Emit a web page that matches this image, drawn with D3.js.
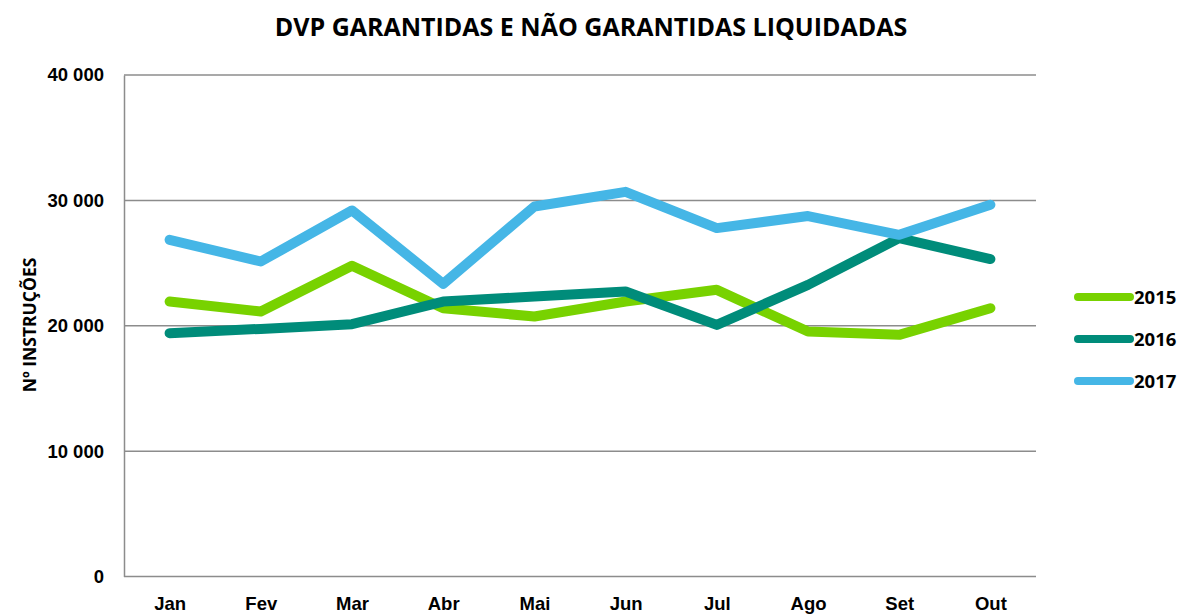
<!DOCTYPE html>
<html>
<head>
<meta charset="utf-8">
<script src="https://d3js.org/d3.v7.min.js"></script>
<style>
  body { margin: 0; background: white; font-family: "Open Sans", sans-serif; }
  .tick text { font-weight: bold; }
</style>
</head>
<body>
<div id="chart"></div>
<script>
  const months = ["Jan", "Fev", "Mar", "Abr", "Mai", "Jun", "Jul", "Ago", "Set", "Out"];
  const years = ["2015", "2016", "2017"];
  const v2015 = [21930, 21130, 24780, 21400, 20735, 21930, 22865, 19540, 19275, 21400];
  const v2016 = [19410, 19750, 20125, 21930, 22330, 22730, 20070, 23260, 26990, 25315];
  const v2017 = [26856, 25125, 29195, 23345, 29515, 30680, 27790, 28750, 27250, 29650];
  const yTicks = [0, 10000, 20000, 30000, 40000];
  const colors = ["#78d200", "#008c7a", "#45b6e6"];

  const series = [v2015, v2016, v2017];

  const width = 1182, height = 614;
  const plotLeft = 124, plotRight = 1036, plotTop = 75, plotBottom = 576.5;

  const svg = d3.select("#chart").append("svg")
      .attr("width", width)
      .attr("height", height);

  const x = d3.scalePoint().domain(months).range([plotLeft, plotRight]).padding(0.5);
  const y = d3.scaleLinear().domain([0, 40000]).range([plotBottom, plotTop]);

  const fmt = v => d3.format(",")(v).replace(/,/g, " ");

  // gridlines
  svg.append("g")
      .selectAll("line")
      .data(yTicks.slice(1))
      .enter()
      .append("line")
      .attr("x1", plotLeft).attr("x2", plotRight)
      .attr("y1", d => y(d)).attr("y2", d => y(d))
      .attr("stroke", "#8c8c8c")
      .attr("stroke-width", 1.5);

  // y axis
  const yAxis = svg.append("g")
      .attr("transform", `translate(${plotLeft},0)`)
      .call(d3.axisLeft(y).tickValues(yTicks).tickSize(0).tickPadding(20).tickFormat(fmt));
  yAxis.select(".domain").attr("stroke", "#8c8c8c").attr("stroke-width", 1.5);
  yAxis.selectAll("text").style("font-size", "18.5px").attr("fill", "#000");

  // x axis
  const xAxis = svg.append("g")
      .attr("transform", `translate(0,${plotBottom})`)
      .call(d3.axisBottom(x).tickSize(0).tickPadding(20));
  xAxis.select(".domain").remove();
  svg.append("line")
      .attr("x1", plotLeft).attr("x2", plotRight)
      .attr("y1", plotBottom).attr("y2", plotBottom)
      .attr("stroke", "#8c8c8c").attr("stroke-width", 1.5);
  xAxis.selectAll("text").style("font-size", "18.5px").attr("fill", "#000");

  // lines
  const line = d3.line()
      .x((d, i) => x(months[i]))
      .y(d => y(d));

  svg.append("g")
      .selectAll("path")
      .data(series)
      .enter()
      .append("path")
      .attr("d", line)
      .attr("fill", "none")
      .attr("stroke", (d, i) => colors[i])
      .attr("stroke-width", 10)
      .attr("stroke-linecap", "round")
      .attr("stroke-linejoin", "round");

  // title
  svg.append("text")
      .attr("x", 591).attr("y", 36)
      .attr("text-anchor", "middle")
      .style("font-size", "25px")
      .style("font-weight", "bold")
      .text("DVP GARANTIDAS E NÃO GARANTIDAS LIQUIDADAS");

  // y title
  svg.append("text")
      .attr("transform", "translate(36,325) rotate(-90)")
      .attr("text-anchor", "middle")
      .style("font-size", "17.5px")
      .style("font-weight", "bold")
      .text("Nº INSTRUÇÕES");

  // legend
  const legend = svg.append("g")
      .selectAll("g")
      .data(years)
      .enter()
      .append("g")
      .attr("transform", (d, i) => `translate(1078,${297 + i * 42})`);
  legend.append("line")
      .attr("x1", 0).attr("x2", 52)
      .attr("stroke", (d, i) => colors[i])
      .attr("stroke-width", 8)
      .attr("stroke-linecap", "round");
  legend.append("text")
      .attr("x", 56).attr("y", 7)
      .style("font-size", "18.5px")
      .style("font-weight", "bold")
      .text(d => d);
</script>
</body>
</html>
